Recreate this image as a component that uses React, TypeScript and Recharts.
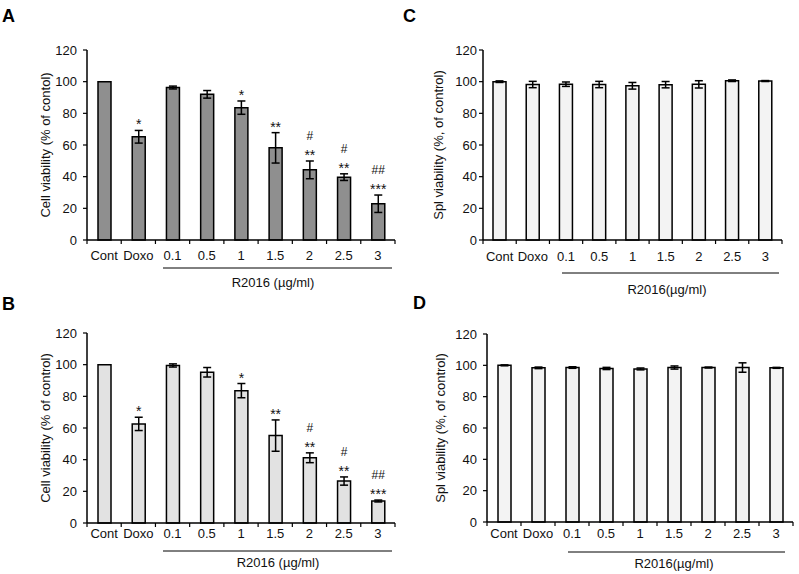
import React from 'react';
import { BarChart, Bar, XAxis, YAxis, ErrorBar, LabelList } from 'recharts';

const categories = ['Cont', 'Doxo', '0.1', '0.5', '1', '1.5', '2', '2.5', '3'];
const yTicks = [0, 20, 40, 60, 80, 100, 120];

const valuesA = [100, 65.2, 96.3, 92, 83.6, 58.2, 44.3, 39.7, 22.9];
const errorsA = [0, 4, 0.9, 2.4, 4.2, 9.6, 5.6, 2.1, 5.5];
const starsA = ['', '*', '', '', '*', '**', '**', '**', '***'];
const hashA = ['', '', '', '', '', '', '#', '#', '##'];

const valuesB = [100, 62.6, 99.5, 95.2, 83.6, 55.2, 41.2, 26.5, 13.9];
const errorsB = [0, 4.2, 1, 3, 4.5, 9.9, 3.1, 2.6, 0.6];
const starsB = ['', '*', '', '', '*', '**', '**', '**', '***'];
const hashB = ['', '', '', '', '', '', '#', '#', '##'];

const valuesC = [100, 98.2, 98.4, 98.2, 97.4, 98.1, 98.3, 100.6, 100.4];
const errorsC = [0.5, 2, 1.4, 2, 2.1, 2, 2.3, 0.5, 0.3];

const valuesD = [100, 98.4, 98.6, 98, 97.7, 98.6, 98.6, 98.6, 98.4];
const errorsD = [0.3, 0.5, 0.5, 0.7, 0.6, 1, 0.3, 3, 0.3];

const yLabelAB = ['Cell viability (% of contol)', 'Cell viability (% of control)'];
const yLabelCD = 'Spl viability (%, of control)';
const xLabels = ['R2016 (\u00b5g/ml)', 'R2016(\u00b5g/ml)'];

type Panel = {
  letter: string;
  values: number[];
  errors: number[];
  stars: string[];
  hashes: string[];
  fill: string;
  yLabel: string;
  xLabel: string;
  left: number;
  top: number;
  width: number;
  height: number;
  margin: { top: number; right: number; bottom: number; left: number };
  tickDy: number;
  yTickMargin: number;
  underlineDy: number;
  underlineX1: number;
  underlineX2: number;
  labelDy: number;
  labelX: number;
  yLabelDx: number;
};

const empty = categories.map(() => '');

const panels: Panel[] = [
  {
    letter: 'A', values: valuesA, errors: errorsA, stars: starsA, hashes: hashA,
    fill: '#8f8f8f', yLabel: yLabelAB[0], xLabel: xLabels[0],
    left: 0, top: 0, width: 400, height: 290,
    margin: { top: 50, right: 5, bottom: 20, left: 47 },
    tickDy: 19.5, yTickMargin: 6, underlineDy: 28, underlineX1: 76, underlineX2: 305,
    labelDy: 46.5, labelX: 186, yLabelDx: -42,
  },
  {
    letter: 'B', values: valuesB, errors: errorsB, stars: starsB, hashes: hashB,
    fill: '#e2e2e2', yLabel: yLabelAB[1], xLabel: xLabels[0],
    left: 0, top: 290, width: 400, height: 284,
    margin: { top: 43, right: 5, bottom: 21, left: 47 },
    tickDy: 14.5, yTickMargin: 6, underlineDy: 28, underlineX1: 76, underlineX2: 305,
    labelDy: 43.5, labelX: 191, yLabelDx: -42,
  },
  {
    letter: 'C', values: valuesC, errors: errorsC, stars: empty, hashes: empty,
    fill: '#f3f3f3', yLabel: yLabelCD, xLabel: xLabels[1],
    left: 400, top: 0, width: 399, height: 297,
    margin: { top: 50, right: 17, bottom: 27, left: 43 },
    tickDy: 21, yTickMargin: 2, underlineDy: 33, underlineX1: 79, underlineX2: 296,
    labelDy: 53.5, labelX: 184, yLabelDx: -45,
  },
  {
    letter: 'D', values: valuesD, errors: errorsD, stars: empty, hashes: empty,
    fill: '#f3f3f3', yLabel: yLabelCD, xLabel: xLabels[1],
    left: 400, top: 296, width: 399, height: 278,
    margin: { top: 38, right: 6, bottom: 22, left: 47 },
    tickDy: 15.5, yTickMargin: 6, underlineDy: 30, underlineX1: 81, underlineX2: 298,
    labelDy: 45.5, labelX: 187, yLabelDx: -47,
  },
];

const letterPos: Record<string, { x: number; y: number }> = {
  A: { x: 2, y: 22 },
  B: { x: 2, y: 310 },
  C: { x: 403, y: 22 },
  D: { x: 413, y: 309 },
};

const TEXT = '#111';
const FS = 13;

function makeTick(p: Panel) {
  return (props: any) => {
    const { x, y, payload, index } = props;
    const half = payload && typeof payload.offset === 'number' && payload.offset > 0 ? payload.offset : 17;
    const n = categories.length;
    const plotLeft = x - half;
    return (
      <g>
        <line x1={x - half} x2={x - half} y1={y} y2={y + 4} stroke="#000" strokeWidth={1.2} />
        {index === n - 1 && (
          <line x1={x + half} x2={x + half} y1={y} y2={y + 4} stroke="#000" strokeWidth={1.2} />
        )}
        <text x={x} y={y + p.tickDy} textAnchor="middle" fontSize={FS} fill={TEXT}>
          {payload.value}
        </text>
        {index === 0 && (
          <g>
            <line
              x1={plotLeft + p.underlineX1}
              x2={plotLeft + p.underlineX2}
              y1={y + p.underlineDy}
              y2={y + p.underlineDy}
              stroke="#000"
              strokeWidth={1}
            />
            <text x={plotLeft + p.labelX} y={y + p.labelDy} textAnchor="middle" fontSize={FS} fill={TEXT}>
              {p.xLabel}
            </text>
          </g>
        )}
      </g>
    );
  };
}

function makeYLabel(p: Panel) {
  return (lp: any) => {
    const vb = lp.viewBox || {};
    const cx = vb.x + vb.width + p.yLabelDx;
    const cy = vb.y + vb.height / 2;
    return (
      <text
        x={cx}
        y={cy}
        transform={`rotate(-90 ${cx} ${cy})`}
        textAnchor="middle"
        dominantBaseline="central"
        fontSize={FS}
        fill={TEXT}
      >
        {p.yLabel}
      </text>
    );
  };
}

function makeSig(p: Panel) {
  return (lp: any) => {
    const vb = lp.viewBox || {};
    const x = typeof lp.x === 'number' ? lp.x : vb.x;
    const y = typeof lp.y === 'number' ? lp.y : vb.y;
    const width = typeof lp.width === 'number' ? lp.width : vb.width;
    const height = typeof lp.height === 'number' ? lp.height : vb.height;
    const i = lp.index;
    const star = p.stars[i];
    const hash = p.hashes[i];
    if (!star && !hash) return null;
    const k = height / p.values[i];
    const errTop = y - (p.errors[i] || 0) * k;
    const starBase = errTop - 1;
    const cx = x + width / 2;
    return (
      <g>
        {star && (
          <text x={cx} y={starBase} textAnchor="middle" fontSize={14} fill={TEXT}>
            {star}
          </text>
        )}
        {hash && (
          <text x={cx} y={starBase - 20} textAnchor="middle" fontSize={12} fill={TEXT}>
            {hash}
          </text>
        )}
      </g>
    );
  };
}

function PanelChart({ p }: { p: Panel }) {
  const data = categories.map((c, i) => ({
    name: c,
    value: p.values[i],
    err: p.errors[i] ? p.errors[i] : null,
  }));
  return (
    <div style={{ position: 'absolute', left: p.left, top: p.top }}>
      <BarChart width={p.width} height={p.height} data={data} margin={p.margin}>
        <XAxis
          dataKey="name"
          type="category"
          height={30}
          interval={0}
          tickSize={0}
          tickMargin={0}
          tickLine={false}
          axisLine={{ stroke: '#000', strokeWidth: 1.5 }}
          tick={makeTick(p)}
        />
        <YAxis
          width={40}
          domain={[0, 120]}
          ticks={yTicks}
          interval={0}
          tickSize={4}
          tickMargin={p.yTickMargin}
          axisLine={{ stroke: '#000', strokeWidth: 1.5 }}
          tickLine={{ stroke: '#000', strokeWidth: 1.2 }}
          tick={{ fontSize: FS, fill: TEXT }}
          label={makeYLabel(p)}
        />
        <Bar dataKey="value" fill={p.fill} stroke="#000" strokeWidth={1.5} barSize={13} isAnimationActive={false}>
          <ErrorBar dataKey="err" width={4} stroke="#000" strokeWidth={1.5} direction="y" isAnimationActive={false} />
          <LabelList dataKey="value" content={makeSig(p)} />
        </Bar>
      </BarChart>
    </div>
  );
}

export default function App() {
  return (
    <div
      style={{
        position: 'absolute',
        left: 0,
        top: 0,
        width: 799,
        height: 574,
        background: '#fff',
        fontFamily: "Arial, 'Liberation Sans', Helvetica, sans-serif",
        overflow: 'hidden',
      }}
    >
      {panels.map((p) => (
        <PanelChart key={p.letter} p={p} />
      ))}
      <svg width={799} height={574} style={{ position: 'absolute', left: 0, top: 0, pointerEvents: 'none' }}>
        {panels.map((p) => (
          <text
            key={p.letter}
            x={letterPos[p.letter].x}
            y={letterPos[p.letter].y}
            fontSize={18}
            fontWeight="bold"
            fill="#000"
          >
            {p.letter}
          </text>
        ))}
      </svg>
    </div>
  );
}
